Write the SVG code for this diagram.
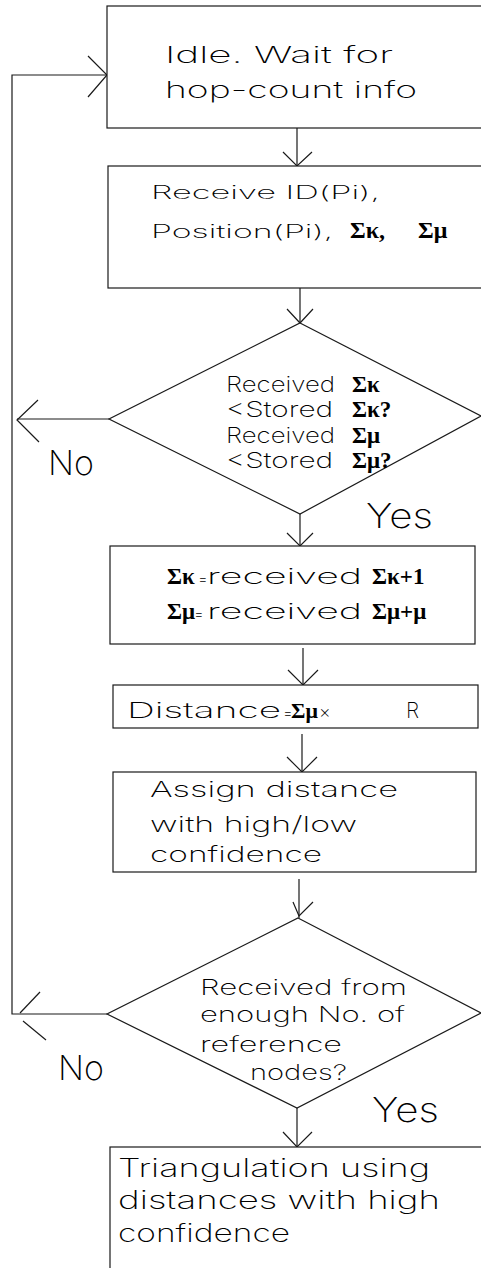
<svg xmlns="http://www.w3.org/2000/svg" width="481" height="1268" viewBox="0 0 481 1268">
<style>
.shape{fill:#fff;stroke:#1a1a1a;stroke-width:1.2}
.ln{fill:none;stroke:#1a1a1a;stroke-width:1.2}
.t{font-family:Inter,"DejaVu Sans",sans-serif;font-weight:200;fill:#000}
.g{font-family:"Liberation Serif","Times New Roman",serif;font-weight:bold;fill:#000}
.lab{font-family:Inter,"DejaVu Sans",sans-serif;font-weight:200;font-size:34px;fill:#000}
</style>
<rect width="481" height="1268" fill="#fff"/>
<g id="connectors">
  <polyline class="ln" points="107,1014 12,1014 12,75 107,75"/>
  <polyline class="ln" points="88,56 107,75 88,97"/>
  <polyline class="ln" points="40,992 20,1013"/>
  <line class="ln" x1="23" y1="1021" x2="46" y2="1040"/>
  <line class="ln" x1="109" y1="419" x2="17" y2="419"/>
  <polyline class="ln" points="38,400 17,420 39,442"/>
  <line class="ln" x1="297" y1="128" x2="297" y2="166"/>
  <polyline class="ln" points="283,152 297,166 312,152"/>
  <line class="ln" x1="300" y1="284" x2="300" y2="323"/>
  <polyline class="ln" points="287,309 300,323 313,309"/>
  <line class="ln" x1="300" y1="514" x2="300" y2="546"/>
  <polyline class="ln" points="287,533 300,546 313,533"/>
  <line class="ln" x1="303" y1="648" x2="303" y2="685"/>
  <polyline class="ln" points="288,670 303,685 318,670"/>
  <line class="ln" x1="302" y1="734" x2="302" y2="772"/>
  <polyline class="ln" points="287,757 302,772 317,757"/>
  <line class="ln" x1="299" y1="879" x2="299" y2="918"/>
  <polyline class="ln" points="293,902 299,916 313,902"/>
  <line class="ln" x1="297" y1="1108" x2="297" y2="1147"/>
  <polyline class="ln" points="283,1132 297,1147 312,1132"/>
</g>
<g id="idle">
  <rect class="shape" x="107" y="6" width="390" height="122"/>
  <text class="t" x="165" y="63" font-size="23" textLength="228" lengthAdjust="spacingAndGlyphs">Idle. Wait for</text>
  <text class="t" x="165" y="98" font-size="23" textLength="252" lengthAdjust="spacingAndGlyphs">hop-count info</text>
</g>
<g id="receive">
  <rect class="shape" x="108" y="166" width="390" height="122"/>
  <text class="t" x="151" y="199" font-size="18" textLength="229" lengthAdjust="spacingAndGlyphs">Receive ID(Pi),</text>
  <text class="t" x="151" y="238" font-size="18" textLength="182" lengthAdjust="spacingAndGlyphs">Position(Pi),</text>
  <text class="g" x="350" y="238" font-size="24">Σκ,</text>
  <text class="g" x="418" y="238" font-size="24">Σμ</text>
</g>
<g id="check1">
  <polygon class="shape" points="300,323 481,416 300,514 109,419"/>
  <text class="t" x="226" y="392" font-size="22" textLength="109" lengthAdjust="spacingAndGlyphs">Received</text>
  <text class="g" x="352" y="392" font-size="23">Σκ</text>
  <text class="t" x="226" y="417" font-size="22" textLength="107" lengthAdjust="spacingAndGlyphs">&lt;Stored</text>
  <text class="g" x="352" y="417" font-size="23">Σκ?</text>
  <text class="t" x="226" y="443" font-size="22" textLength="109" lengthAdjust="spacingAndGlyphs">Received</text>
  <text class="g" x="352" y="443" font-size="23">Σμ</text>
  <text class="t" x="226" y="468" font-size="22" textLength="107" lengthAdjust="spacingAndGlyphs">&lt;Stored</text>
  <text class="g" x="352" y="468" font-size="23">Σμ?</text>
</g>
<text class="lab" x="48" y="475">No</text>
<text class="lab" x="366" y="528" textLength="67" lengthAdjust="spacingAndGlyphs">Yes</text>
<g id="update">
  <rect class="shape" x="110" y="546" width="365" height="98"/>
  <text class="g" x="167" y="584" font-size="23">Σκ<tspan class="t" x="198" font-size="15">=</tspan><tspan class="t" x="207" font-size="22" textLength="155" lengthAdjust="spacingAndGlyphs">received</tspan></text>
  <text class="g" x="372" y="584" font-size="23">Σκ+1</text>
  <text class="g" x="167" y="619" font-size="23">Σμ<tspan class="t" x="194" font-size="15">=</tspan><tspan class="t" x="207" font-size="22" textLength="155" lengthAdjust="spacingAndGlyphs">received</tspan></text>
  <text class="g" x="372" y="619" font-size="23">Σμ+μ</text>
</g>
<g id="distance">
  <rect class="shape" x="113" y="685" width="365" height="43"/>
  <text class="t" x="127" y="718" font-size="21" textLength="154" lengthAdjust="spacingAndGlyphs">Distance</text>
  <text class="t" x="283" y="718" font-size="15">=<tspan class="g" x="291" font-size="22">Σμ</tspan><tspan x="319" font-size="18">×</tspan></text>
  <text class="t" x="406" y="718" font-size="21">R</text>
</g>
<g id="assign">
  <rect class="shape" x="113" y="772" width="363" height="100"/>
  <text class="t" x="150" y="797" font-size="22" textLength="248" lengthAdjust="spacingAndGlyphs">Assign distance</text>
  <text class="t" x="150" y="832" font-size="22" textLength="207" lengthAdjust="spacingAndGlyphs">with high/low</text>
  <text class="t" x="150" y="862" font-size="22" textLength="172" lengthAdjust="spacingAndGlyphs">confidence</text>
</g>
<g id="check2">
  <polygon class="shape" points="298,918 481,1013 297,1108 107,1014"/>
  <text class="t" x="200" y="995" font-size="21" textLength="207" lengthAdjust="spacingAndGlyphs">Received from</text>
  <text class="t" x="200" y="1022" font-size="21" textLength="205" lengthAdjust="spacingAndGlyphs">enough No. of</text>
  <text class="t" x="200" y="1052" font-size="21" textLength="142" lengthAdjust="spacingAndGlyphs">reference</text>
  <text class="t" x="250" y="1080" font-size="21" textLength="97" lengthAdjust="spacingAndGlyphs">nodes?</text>
</g>
<text class="lab" x="58" y="1080">No</text>
<text class="lab" x="372" y="1122" textLength="67" lengthAdjust="spacingAndGlyphs">Yes</text>
<g id="triangulation">
  <rect class="shape" x="110" y="1147" width="390" height="140"/>
  <text class="t" x="118" y="1177" font-size="25" textLength="312" lengthAdjust="spacingAndGlyphs">Triangulation using</text>
  <text class="t" x="118" y="1209" font-size="25" textLength="322" lengthAdjust="spacingAndGlyphs">distances with high</text>
  <text class="t" x="118" y="1242" font-size="25" textLength="172" lengthAdjust="spacingAndGlyphs">confidence</text>
</g>
</svg>
